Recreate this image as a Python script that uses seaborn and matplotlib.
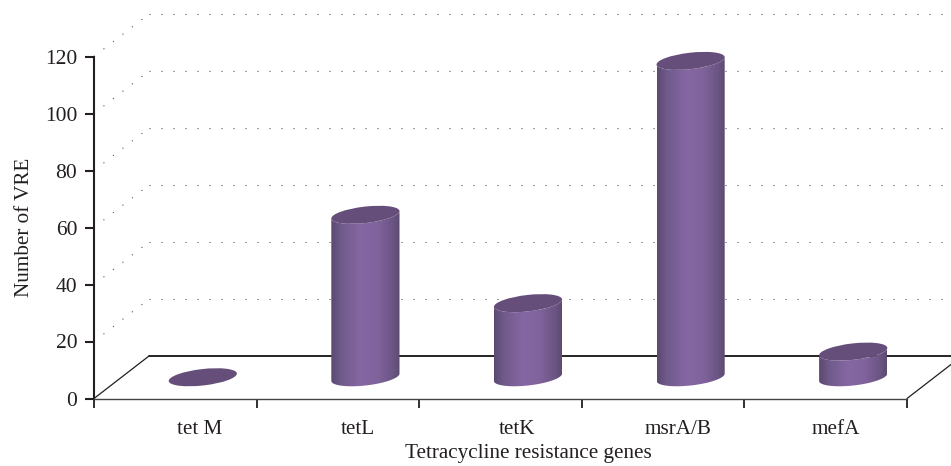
"""
Number of VRE per tetracycline resistance gene, drawn as pseudo-3D cylinders on a seaborn barplot.
"""

import numpy as np
import matplotlib
matplotlib.use("Agg")
import matplotlib.pyplot as plt
import seaborn as sns
from matplotlib.colors import LinearSegmentedColormap
from matplotlib.patches import Ellipse
from matplotlib.path import Path
from matplotlib.transforms import IdentityTransform

genes = ["tet M", "tetL", "tetK", "msrA/B", "mefA"]
vre_counts = [0, 57, 26, 111, 9]
y_ticks = [0, 20, 40, 60, 80, 100, 120]

INK = "#231f20"
TOP_COLOR = "#654f7a"
SIDE_CMAP = LinearSegmentedColormap.from_list(
    "side",
    [(0, "#5a4a70"), (0.14, "#6f5a8a"), (0.42, "#8567a3"), (0.68, "#80639c"),
     (0.9, "#6b5584"), (1, "#5c4b70")],
)

# depth of the fake 3D box, in pixels
DEPTH_PX = (55, 42.5)
# ellipse shape of the cylinder caps, in pixels
CAP_A, CAP_B, CAP_TILT = 34.3, 8.2, 6.5

sns.set_theme(style="ticks")
plt.rcParams["font.family"] = ["Liberation Serif", "DejaVu Serif"]

fig = plt.figure(figsize=(9.51, 4.66), dpi=100)
ax = fig.add_axes([94 / 951, (466 - 398.5) / 466, 813 / 951, 342 / 466])

sns.barplot(x=genes, y=vre_counts, width=68 / 162.6, color="#8264a0", ax=ax, zorder=3)

x_min, x_max = -0.5, 4.5
ax.set_xlim(x_min, x_max)
ax.set_ylim(0, 120)

# depth converted to data units
depth_x = DEPTH_PX[0] / (813 / 5)
depth_y = DEPTH_PX[1] / (342 / 120)

# back wall dotted grid with the dotted lines running to the y axis
dots = (0, (1, 9.8))
for v in y_ticks[1:]:
    ax.plot([x_min + depth_x, x_max + depth_x], [v + depth_y, v + depth_y],
            color="#555555", lw=0.8, ls=dots, clip_on=False, zorder=1)
    ax.plot([x_min, x_min + depth_x], [v, v + depth_y],
            color="#555555", lw=0.8, ls=dots, clip_on=False, zorder=1)

# floor outline
ax.plot([x_min + depth_x, x_max + depth_x], [depth_y, depth_y],
        color="black", lw=1.2, clip_on=False, zorder=2)
ax.plot([x_min, x_min + depth_x], [0, depth_y], color=INK, lw=0.9, clip_on=False, zorder=2)
ax.plot([x_max, x_max + depth_x], [0, depth_y], color=INK, lw=0.9, clip_on=False, zorder=2)

# side gradient for the images
gradient = np.linspace(0, 1, 128).reshape(1, -1)
theta = np.radians(CAP_TILT)


def arc_points(cx, cy):
    # lower half of the tilted cap, from its leftmost point to its rightmost point
    t_left = np.pi + np.arctan(-(CAP_B / CAP_A) * np.tan(theta))
    t = np.linspace(t_left, t_left + np.pi, 40)
    px = cx + CAP_A * np.cos(t) * np.cos(theta) - CAP_B * np.sin(t) * np.sin(theta)
    py = cy + CAP_A * np.cos(t) * np.sin(theta) + CAP_B * np.sin(t) * np.cos(theta)
    return np.column_stack([px, py])


for bar in ax.patches:
    # stand the bar in the middle of the floor
    bar.set_x(bar.get_x() + depth_x / 2)
    bar.set_y(depth_y / 2)
    bar.set_visible(False)

    left = bar.get_x()
    width = bar.get_width()
    mid = left + width / 2
    base = bar.get_y()
    top = base + bar.get_height()

    base_px = ax.transData.transform((mid, base))
    top_px = ax.transData.transform((mid, top))

    outline = np.vstack([arc_points(*base_px), arc_points(*top_px)[::-1]])
    im = ax.imshow(gradient, cmap=SIDE_CMAP, aspect="auto", zorder=3,
                   extent=(left, left + width, base - 4, top + 4))
    im.set_clip_path(Path(np.vstack([outline, outline[:1]]), closed=True),
                     IdentityTransform())

    ax.add_patch(Ellipse(top_px, 2 * CAP_A, 2 * CAP_B, angle=CAP_TILT, facecolor=TOP_COLOR,
                         edgecolor="none", transform=IdentityTransform(), zorder=4, clip_on=False))

ax.set_xlim(x_min, x_max)
ax.set_ylim(0, 120)

# axes
sns.despine(ax=ax)
ax.spines["left"].set_linewidth(1.5)
ax.spines["left"].set_color(INK)
ax.spines["bottom"].set_linewidth(1.0)
ax.spines["bottom"].set_color("#444444")

# the labels sit off-centre against the tick marks in the original
label_pos = [0.148, 1.123, 2.10, 3.09, 4.06]
ax.set_xticks(label_pos)
ax.set_xticklabels(genes)
ax.set_xticks(np.arange(6) - 0.5, minor=True)
ax.tick_params(axis="x", which="major", length=0, pad=15.5, labelsize=15.2, labelcolor=INK)
ax.tick_params(axis="x", which="minor", length=6.5, width=1.3, color=INK)
ax.set_yticks(y_ticks)
ax.tick_params(axis="y", length=6.5, width=1.5, color=INK, pad=5.5, labelsize=15.5, labelcolor=INK)

ax.set_xlabel("Tetracycline resistance genes", fontsize=15.2, color=INK, va="center")
ax.xaxis.set_label_coords((528 - 94) / 813, -(453.5 - 398.5) / 342)
ax.set_ylabel("Number of VRE", fontsize=15.2, color=INK, va="center")
ax.yaxis.set_label_coords((25 - 94) / 813, (398.5 - 227) / 342)

fig.savefig("out.png", dpi=100)
